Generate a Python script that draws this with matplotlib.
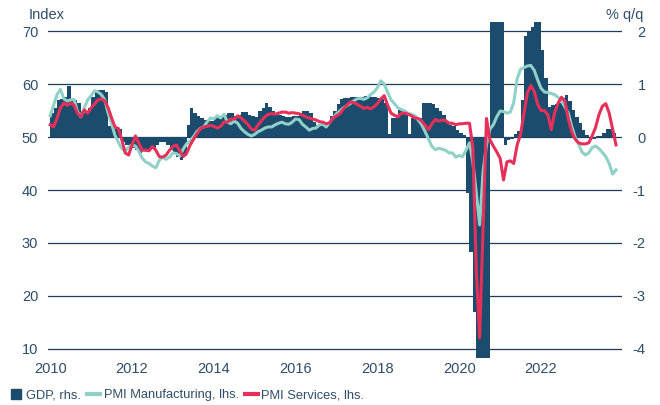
import matplotlib
matplotlib.use("Agg")
import matplotlib.pyplot as plt
from matplotlib.lines import Line2D
import numpy as np
import pandas as pd

# Monthly data, Jan 2010 onwards
gdp = [0.45, 0.55, 0.7, 0.72, 0.75, 0.97, 0.72, 0.7, 0.65, 0.5, 0.45, 0.55,
       0.75, 0.85, 0.88, 0.88, 0.85, 0.2, 0.17, 0.15, 0.15, -0.1, -0.15, -0.2,
       -0.2, -0.25, -0.3, -0.25, -0.25, -0.25, -0.2, -0.15, -0.1, -0.1, -0.15, -0.25,
       -0.3, -0.38, -0.43, -0.35, 0.23, 0.55, 0.45, 0.4, 0.35, 0.32, 0.3, 0.3,
       0.35, 0.38, 0.4, 0.42, 0.45, 0.45, 0.4, 0.42, 0.47, 0.47, 0.42, 0.4,
       0.38, 0.5, 0.55, 0.64, 0.57, 0.5, 0.45, 0.42, 0.4, 0.38, 0.38, 0.4,
       0.4, 0.45, 0.5, 0.5, 0.45, 0.28, 0.22, 0.22, 0.25, 0.28, 0.4, 0.5,
       0.63, 0.72, 0.73, 0.74, 0.75, 0.75, 0.76, 0.76, 0.77, 0.77, 0.76, 0.75,
       0.74, 0.72, 0.64, 0.05, 0.36, 0.36, 0.51, 0.51, 0.5, 0.05, 0.36, 0.36,
       0.36, 0.64, 0.64, 0.64, 0.63, 0.55, 0.5, 0.42, 0.3, 0.23, 0.2, 0.14,
       0.08, 0.04, -1.06, -2.17, -3.3, -8.5, -19.0, -20.0, -7.5, 8.0, 15.5, 10.0,
       4.5, -0.15, -0.05, -0.03, 0.05, 0.12, 0.7, 1.9, 1.98, 2.07, 4.5, 3.5,
       1.64, 1.11, 0.57, 0.6, 0.62, 0.65, 0.73, 0.79, 0.67, 0.51, 0.38, 0.26,
       0.13, 0.04, -0.03, -0.03, 0.01, 0.01, 0.07, 0.16, 0.16, 0.07]

pmi_manuf = [54.0, 56.0, 58.0, 59.0, 57.2, 56.8, 57.0, 57.1, 54.8, 53.8, 55.5, 57.0,
             57.8, 58.7, 58.5, 58.0, 57.0, 54.5, 52.5, 50.3, 49.0, 47.8, 47.3, 48.1,
             48.5, 48.3, 47.3, 46.0, 45.3, 45.0, 44.5, 44.2, 45.6, 46.2, 45.8, 46.2,
             47.0, 46.9, 46.4, 47.7, 48.7, 49.3, 50.0, 51.0, 51.6, 51.9, 52.8, 53.6,
             53.4, 54.0, 53.6, 54.3, 52.8, 52.5, 53.0, 52.6, 51.6, 51.0, 50.5, 50.2,
             50.5, 51.0, 51.3, 51.7, 51.9, 51.9, 52.3, 52.6, 52.8, 52.5, 52.4, 52.8,
             53.4, 53.3, 52.4, 51.9, 51.3, 51.6, 51.7, 52.3, 52.4, 51.9, 52.8, 53.6,
             54.4, 54.9, 55.5, 55.9, 56.3, 56.8, 57.2, 57.3, 57.1, 57.4, 58.0, 58.5,
             59.3, 60.6, 60.0, 58.4, 57.0, 56.3, 55.5, 55.2, 54.9, 54.5, 54.3, 54.0,
             53.2, 52.3, 51.0, 49.6, 48.2, 47.6, 47.9, 47.7, 47.5, 47.0, 47.0, 46.2,
             46.5, 46.3, 47.5, 48.9, 45.3, 39.5, 33.4, 43.5, 48.5, 51.5, 52.3, 53.8,
             54.9, 54.8, 54.5, 54.7, 56.5, 61.0, 62.8, 63.1, 63.4, 63.5, 62.6, 60.8,
             59.2, 58.5, 58.4, 58.2, 58.0, 57.5, 56.8, 55.7, 54.5, 52.0, 50.0, 48.7,
             47.2, 46.6, 47.0, 48.0, 48.3, 47.8, 47.1, 46.3, 45.0, 43.0, 43.8]

pmi_serv = [52.3, 51.9, 53.5, 55.5, 56.4, 56.0, 56.4, 56.0, 54.5, 53.8, 55.1, 54.5,
            55.5, 56.2, 57.0, 57.2, 56.8, 55.5, 53.6, 51.9, 51.6, 49.5, 47.0, 46.6,
            48.5, 50.2, 48.8, 47.5, 47.5, 47.4, 48.2, 47.5, 46.3, 46.2, 46.6, 47.5,
            48.2, 48.5, 47.4, 46.3, 46.9, 48.4, 49.5, 50.6, 51.5, 51.9, 52.0, 52.2,
            52.0, 51.7, 52.0, 52.8, 52.8, 53.4, 53.4, 54.0, 53.6, 53.0, 52.4, 51.5,
            51.3, 52.3, 53.1, 53.8, 54.3, 54.4, 54.3, 54.5, 54.7, 54.7, 54.5, 54.6,
            54.5, 54.4, 54.1, 53.8, 53.6, 53.4, 53.2, 52.9, 52.8, 52.5, 52.7, 53.6,
            54.0, 54.4, 55.3, 56.0, 56.6, 56.5, 56.2, 55.8, 55.4, 55.6, 55.3, 55.7,
            56.3, 57.2, 57.8, 56.0, 54.5, 54.1, 53.8, 54.5, 54.5, 54.3, 54.0, 53.6,
            53.5, 53.0, 52.2, 51.4, 52.5, 53.3, 53.0, 53.2, 53.1, 52.6, 52.6, 52.3,
            52.5, 52.5, 52.6, 52.6, 48.0, 25.0, 12.1, 33.0, 53.5, 49.5, 48.3, 47.2,
            46.0, 41.9, 45.3, 45.5, 45.0, 48.5, 50.5, 54.5, 58.3, 59.7, 58.6, 56.2,
            55.0, 55.0, 54.2, 51.4, 54.6, 56.4, 57.5, 56.8, 53.4, 51.0, 49.6, 48.9,
            48.7, 48.7, 48.9, 50.2, 51.8, 54.2, 55.8, 56.3, 54.5, 51.5, 48.5]

months = pd.date_range("2010-01-01", periods=len(pmi_serv), freq="MS")
t = months.year + (months.month - 1) / 12.0
t_gdp = t[:len(gdp)]

NAVY = "#1b4b6d"
TEAL = "#8fd1c8"
RED = "#e6305a"
TEXT = "#2f4d68"
GRID = "#1e3d5a"

plt.rcParams["font.family"] = ["Liberation Sans", "DejaVu Sans"]
plt.rcParams["axes.unicode_minus"] = False

fig = plt.figure(figsize=(6.6, 4.05), dpi=100)
ax = fig.add_axes([48 / 660, 1 - 358 / 405, 574 / 660, 336 / 405])
ax2 = ax.twinx()

# GDP bars on right axis, gridlines behind them
ax2.bar(t_gdp, gdp, width=1 / 12, align="edge", color=NAVY, linewidth=0)
ax2.set_ylim(-4.17, 2.17)
ax2.set_yticks(range(-4, 3))
ax2.yaxis.grid(True, color=GRID, linewidth=0.9)
ax2.set_axisbelow(True)

# PMI lines on left axis, drawn over the bars
ax.plot(t, pmi_manuf, color=TEAL, linewidth=2.2, solid_joinstyle="round")
ax.plot(t, pmi_serv, color=RED, linewidth=2.2, solid_joinstyle="round")
ax.set_ylim(8.3, 71.7)
ax.set_yticks(range(10, 71, 10))
ax.set_zorder(ax2.get_zorder() + 1)
ax.patch.set_visible(False)

ax.set_xlim(2009.946, 2023.98)
ax.set_xticks(range(2010, 2023, 2))

for a in (ax, ax2):
    for s in a.spines.values():
        s.set_visible(False)
    a.tick_params(length=0, labelsize=10.5, labelcolor=TEXT)
ax.tick_params(axis="y", pad=7)
ax.tick_params(axis="x", pad=3)
ax2.tick_params(axis="y", pad=17)
for lab in ax2.get_yticklabels():
    lab.set_horizontalalignment("right")

fig.text(29 / 660, 1 - 15 / 405, "Index", color=TEXT, fontsize=10.5, va="center", ha="left")
fig.text(643 / 660, 1 - 15 / 405, "% q/q", color=TEXT, fontsize=10.5, va="center", ha="right")

handles = [Line2D([], [], marker="s", linestyle="none", color=NAVY, markersize=6.5),
           Line2D([], [], color=TEAL, linewidth=3),
           Line2D([], [], color=RED, linewidth=3)]
labels = ["GDP, rhs.", "PMI Manufacturing, lhs.", "PMI Services, lhs."]
fig.legend(handles, labels, loc="center left", bbox_to_anchor=(10 / 660, 1 - 395 / 405),
           ncol=3, frameon=False, fontsize=9.3, handlelength=1.0, handletextpad=0.25,
           columnspacing=0.5, borderaxespad=0, borderpad=0, labelcolor=TEXT)

fig.savefig("out.png", dpi=100)
